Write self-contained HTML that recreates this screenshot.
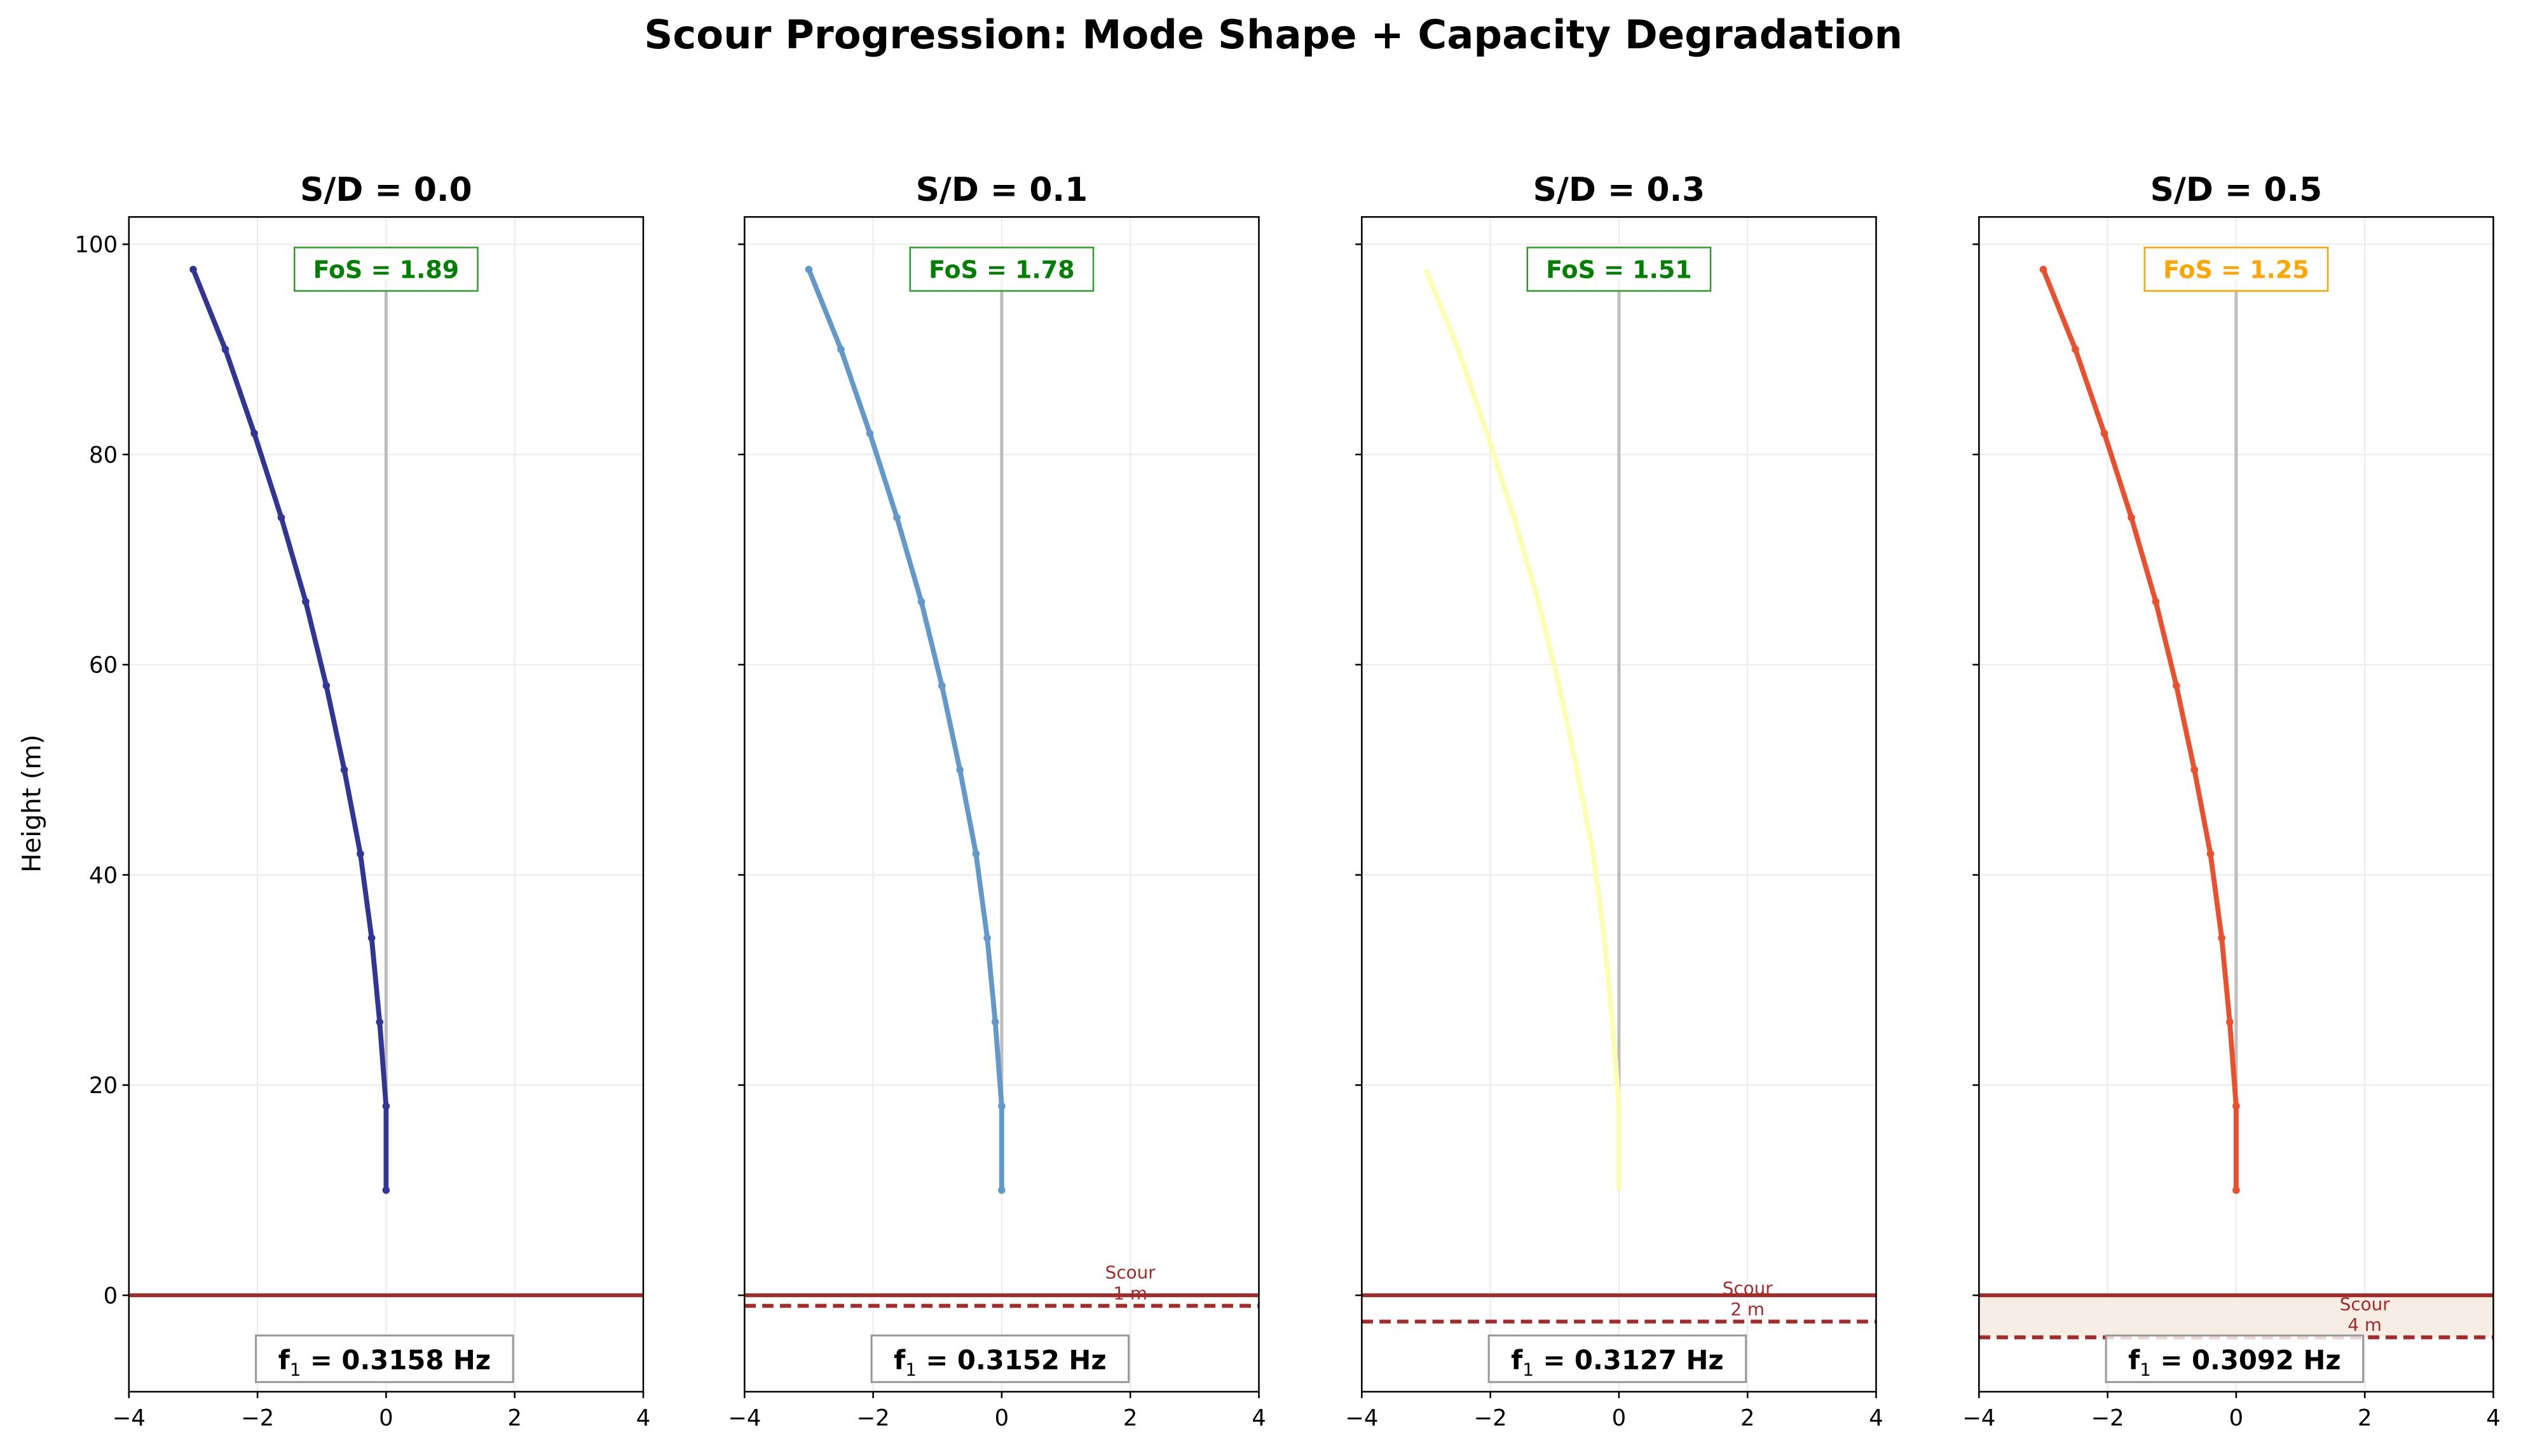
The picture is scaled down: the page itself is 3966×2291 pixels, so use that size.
<!DOCTYPE html>
<html><head><meta charset="utf-8"><style>
html,body{margin:0;padding:0;background:#fff}
svg{display:block}
text{font-family:"DejaVu Sans","Liberation Sans",sans-serif}
</style></head><body>
<svg width="3966" height="2291" viewBox="0 0 1568 906" xmlns="http://www.w3.org/2000/svg">
<rect width="1568" height="906" fill="#fff"/>
<text x="792" y="30" text-anchor="middle" font-size="24.7" font-weight="bold">Scour Progression: Mode Shape + Capacity Degradation</text>
<text x="25" y="500" text-anchor="middle" font-size="16" transform="rotate(-90 25 500)">Height (m)</text>
<g id="panels"></g>
<script>
(function(){
var ns="http://www.w3.org/2000/svg";
var g=document.getElementById("panels");
function el(t,a,txt,par){var e=document.createElementNS(ns,t);for(var k in a)e.setAttribute(k,a[k]);if(txt!==undefined)e.textContent=txt;(par||g).appendChild(e);return e;}
var P=[{l:80,t:"S/D = 0.0",c:"#313695",fos:"1.89",fc:"#008000",bc:"#2ca02c",f:"0.3158",s:0,m:true},
{l:463,t:"S/D = 0.1",c:"#6399c9",fos:"1.78",fc:"#008000",bc:"#2ca02c",f:"0.3152",s:1,m:true},
{l:847,t:"S/D = 0.3",c:"#fefeb2",fos:"1.51",fc:"#008000",bc:"#2ca02c",f:"0.3127",s:2.5,m:false},
{l:1231,t:"S/D = 0.5",c:"#e8502e",fos:"1.25",fc:"#ffa500",bc:"#ffa500",f:"0.3092",s:4,m:true}];
var top=135,bot=866;
function Y(v){return 806-6.54*v;}
var H=[10,18,26,34,42,50,58,66,74,82,90,97.6];
var U=[0,0,-0.1,-0.225,-0.4,-0.65,-0.93,-1.25,-1.63,-2.05,-2.5,-3.0];
P.forEach(function(p,i){
 var L=p.l,R=p.l+320,C=p.l+160;function X(u){return C+40*u;}
 [-2,0,2].forEach(function(u){el("line",{x1:X(u),x2:X(u),y1:top,y2:bot,stroke:"#ebebeb","stroke-width":0.8});});
 [0,20,40,60,80,100].forEach(function(v){el("line",{x1:L,x2:R,y1:Y(v),y2:Y(v),stroke:"#ebebeb","stroke-width":0.8});});
 if(p.s>=4){el("rect",{x:L,y:Y(0),width:320,height:Y(-p.s)-Y(0),fill:"#f6ede4"});}
 el("line",{x1:X(0),x2:X(0),y1:Y(10),y2:Y(97.6)+6,stroke:"#bdbdbd","stroke-width":2});
 var d="";H.forEach(function(h,k){d+=(k?"L":"M")+X(U[k]).toFixed(1)+" "+Y(h).toFixed(1);});
 el("path",{d:d,fill:"none",stroke:p.c,"stroke-width":3.1,"stroke-linejoin":"round"});
 if(p.m)H.forEach(function(h,k){el("circle",{cx:X(U[k]),cy:Y(h),r:2.3,fill:p.c});});
 el("line",{x1:L,x2:R,y1:Y(0),y2:Y(0),stroke:"#a52a2a","stroke-width":2.4});
 if(p.s>0){var yd=Y(-p.s);
  el("line",{x1:L,x2:R,y1:yd,y2:yd,stroke:"#a52a2a","stroke-width":2.4,"stroke-dasharray":"7 4"});
  el("text",{x:X(2),y:yd-17,"text-anchor":"middle","font-size":11,fill:"#a52a2a"},"Scour");
  el("text",{x:X(2),y:yd-4,"text-anchor":"middle","font-size":11,fill:"#a52a2a"},(p.s>=4?"4":p.s>=2?"2":"1")+" m");
 }
 el("rect",{x:C-57,y:154,width:114,height:27,fill:"#fff","fill-opacity":0.85,stroke:p.bc,"stroke-width":1});
 el("text",{x:C,y:173,"text-anchor":"middle","font-size":15,"font-weight":"bold",fill:p.fc},"FoS = "+p.fos);
 el("rect",{x:C-81,y:831,width:160,height:29,fill:"#fff","fill-opacity":0.8,stroke:"#999","stroke-width":1.2});
 var t=el("text",{x:C-1,y:852,"text-anchor":"middle","font-size":16.5,"font-weight":"bold",fill:"#000"});
 el("tspan",{},"f",t);
 el("tspan",{"font-size":11,"font-weight":"normal",dy:4},"1",t);
 el("tspan",{dy:-4}," = "+p.f+" Hz",t);
 el("rect",{x:L,y:top,width:320,height:bot-top,fill:"none",stroke:"#000","stroke-width":1});
 [-4,-2,0,2,4].forEach(function(u){el("line",{x1:X(u),x2:X(u),y1:bot,y2:bot+4,stroke:"#000","stroke-width":1});
  el("text",{x:X(u),y:bot+21,"text-anchor":"middle","font-size":14},(u<0?"\u2212"+(-u):""+u));});
 [0,20,40,60,80,100].forEach(function(v){el("line",{x1:L-4,x2:L,y1:Y(v),y2:Y(v),stroke:"#000","stroke-width":1});
  if(i==0)el("text",{x:L-7,y:Y(v)+5,"text-anchor":"end","font-size":14},""+v);});
 el("text",{x:C,y:125,"text-anchor":"middle","font-size":20.5,"font-weight":"bold"},p.t);
});
})();
</script>
</svg>
</body></html>
